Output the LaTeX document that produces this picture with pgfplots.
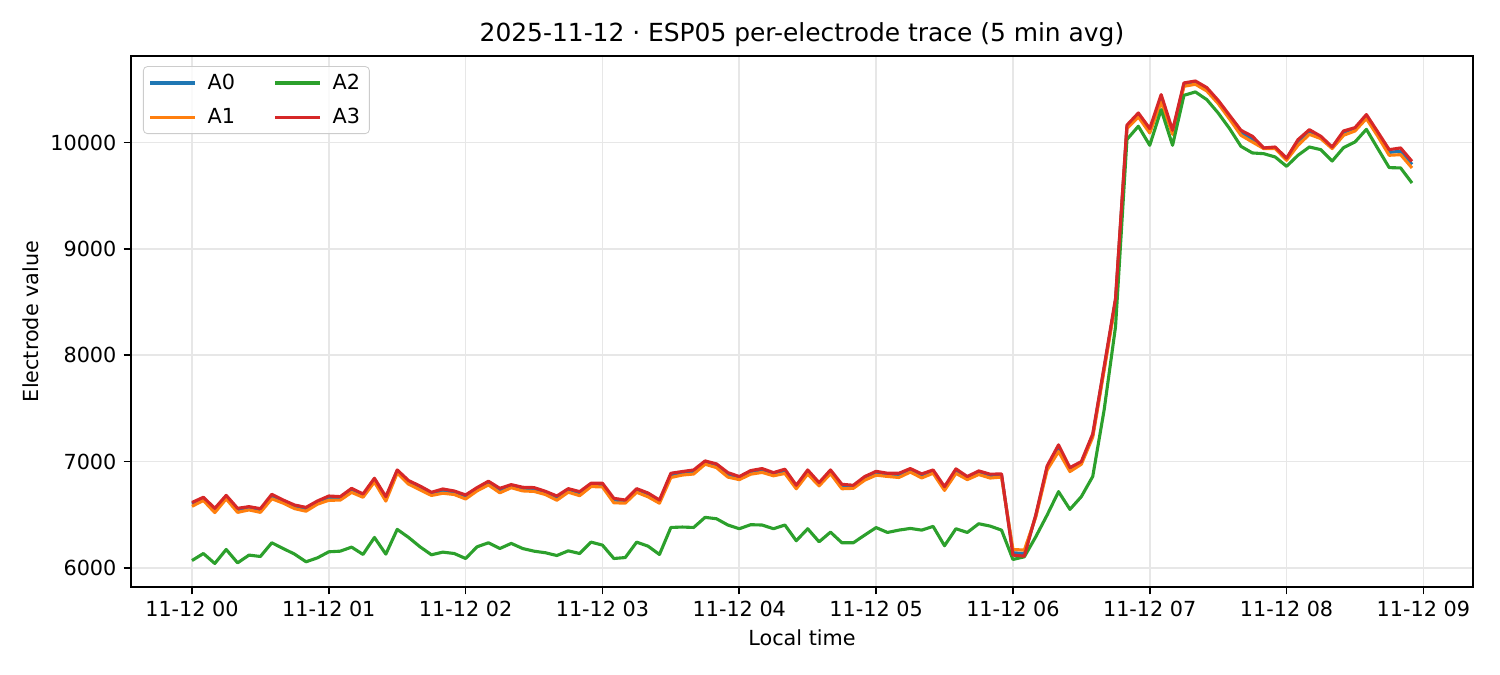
\documentclass[border=0pt]{standalone}
\usepackage{fontspec}
\setmainfont{DejaVu Sans}
\usepackage{pgfplots}
\usepackage{pgfplotstable}
\pgfplotsset{compat=1.18}

\definecolor{cA0}{HTML}{1F77B4}
\definecolor{cA1}{HTML}{FF7F0E}
\definecolor{cA2}{HTML}{2CA02C}
\definecolor{cA3}{HTML}{D62728}
\definecolor{gridgray}{HTML}{E7E7E7}
\definecolor{legedge}{HTML}{CCCCCC}

% minutes since 00:00, 5 min averages
\pgfplotstableread{
t A0 A1 A2 A3
0 6603 6579 6069 6615
5 6655 6634 6135 6664
10 6546 6520 6041 6560
15 6671 6649 6173 6682
20 6547 6522 6047 6560
25 6566 6545 6120 6576
30 6545 6522 6107 6557
35 6677 6650 6236 6692
40 6629 6609 6182 6638
45 6580 6557 6129 6591
50 6557 6533 6057 6569
55 6620 6599 6094 6629
60 6662 6636 6151 6676
65 6659 6637 6157 6670
70 6735 6710 6195 6748
75 6685 6664 6126 6695
80 6831 6808 6286 6843
85 6655 6628 6129 6670
90 6912 6892 6362 6921
95 6810 6787 6286 6821
100 6758 6734 6198 6770
105 6702 6681 6123 6711
110 6728 6702 6148 6742
115 6712 6690 6135 6723
120 6673 6648 6088 6686
125 6745 6724 6198 6755
130 6803 6780 6236 6815
135 6733 6706 6182 6748
140 6774 6754 6230 6783
145 6747 6724 6182 6758
150 6743 6719 6157 6755
155 6711 6690 6142 6720
160 6662 6636 6116 6676
165 6734 6712 6160 6745
170 6704 6679 6135 6717
175 6786 6765 6242 6796
180 6784 6761 6214 6796
185 6639 6612 6088 6654
190 6629 6609 6097 6638
195 6734 6711 6242 6745
200 6692 6668 6204 6704
205 6629 6608 6126 6638
210 6876 6850 6380 6890
215 6895 6873 6384 6906
220 6908 6883 6380 6921
225 6996 6975 6475 7006
230 6966 6943 6462 6978
235 6881 6854 6403 6896
240 6850 6830 6368 6859
245 6904 6881 6406 6915
250 6922 6898 6403 6934
255 6887 6866 6368 6896
260 6914 6888 6403 6928
265 6766 6744 6255 6777
270 6908 6883 6368 6921
275 6792 6771 6245 6802
280 6909 6886 6336 6921
285 6771 6744 6236 6786
290 6768 6748 6236 6777
295 6848 6825 6308 6859
300 6896 6872 6379 6908
305 6881 6860 6333 6890
310 6876 6850 6355 6890
315 6923 6901 6371 6934
320 6871 6846 6355 6884
325 6911 6890 6390 6921
330 6752 6729 6208 6764
335 6916 6889 6368 6931
340 6850 6830 6333 6859
345 6901 6878 6415 6912
350 6869 6845 6393 6881
355 6875 6854 6355 6884
360 6142 6173 6079 6120
365 6135 6167 6104 6110
370 6488 6478 6292 6497
375 6945 6921 6497 6959
380 7130 7094 6717 7157
385 6930 6906 6550 6943
390 6990 6975 6670 7000
395 7248 7230 6860 7260
400 7880 7860 7486 7893
405 8522 8500 8270 8536
410 10150 10132 10030 10165
415 10262 10241 10154 10279
420 10112 10091 9975 10132
425 10420 10383 10311 10452
430 10098 10078 9975 10116
435 10548 10530 10445 10562
440 10566 10549 10477 10580
445 10503 10486 10405 10518
450 10384 10368 10279 10398
455 10240 10222 10132 10257
460 10093 10069 9965 10116
465 10033 10006 9903 10060
470 9947 9944 9896 9950
475 9952 9944 9865 9959
480 9845 9834 9777 9854
485 10002 9975 9881 10028
490 10100 10078 9959 10122
495 10049 10038 9934 10060
500 9952 9944 9827 9959
505 10090 10069 9953 10110
510 10126 10110 10006 10141
515 10245 10226 10125 10264
520 10080 10060 9944 10100
525 9908 9881 9765 9934
530 9920 9887 9762 9950
535 9795 9762 9620 9824
}\esp

\begin{document}
\begin{tikzpicture}
\path[use as bounding box] (-0.8733in,-0.5867in) rectangle (9.1267in,3.9133in);
\begin{axis}[
    at={(0,0)}, anchor=south west,
    scale only axis,
    width=8.9467in, height=3.54in,
    xmin=-26.75, xmax=561.75,
    ymin=5820, ymax=10815,
    xtick={0,60,120,180,240,300,360,420,480,540},
    xticklabels={11-12 00,11-12 01,11-12 02,11-12 03,11-12 04,11-12 05,11-12 06,11-12 07,11-12 08,11-12 09},
    ytick={6000,7000,8000,9000,10000},
    xtick pos=bottom, ytick pos=left,
    /pgf/number format/assume math mode=true,
    /pgf/number format/1000 sep={},
    scaled y ticks=false,
    tick align=outside,
    major tick length=3.5pt,
    every tick/.style={black, line width=0.8pt},
    axis line style={black, line width=0.8pt},
    grid=major,
    major grid style={gridgray, line width=0.8pt},
    tick label style={font=\fontsize{10}{12}\selectfont},
    every axis title shift=0pt,
    title={2025-11-12 · ESP05 per-electrode trace (5 min avg)},
    title style={font=\fontsize{12}{14}\selectfont, at={(axis description cs:0.5,1.0395)}, anchor=center},
    xlabel={Local time},
    xlabel style={font=\fontsize{10}{12}\selectfont, at={(axis description cs:0.5,-0.096)}, anchor=center},
    ylabel={Electrode value},
    ylabel style={font=\fontsize{10}{12}\selectfont, at={(axis description cs:-0.0745,0.5)}, anchor=center, rotate=0},
    legend columns=2,
    transpose legend,
    legend cell align=left,
    legend style={
        at={(axis description cs:0.0089,0.981)}, anchor=north west,
        draw=legedge, rounded corners=2pt, fill=white, fill opacity=0.8, text opacity=1,
        font=\fontsize{10}{12}\selectfont,
        inner xsep=2.5pt, inner ysep=1.5pt, row sep=3.5pt,
        /tikz/every even column/.append style={column sep=16.5pt},
    },
    legend image code/.code={\draw[#1, line width=1.5pt] (0pt,0pt) -- (21.5pt,0pt); \path (25pt,0pt);},
    every axis plot/.append style={line width=1.5pt, line join=round},
]
\addplot[cA0, no markers] table[x=t, y=A0] {\esp};
\addlegendentry{A0}
\addplot[cA1, no markers] table[x=t, y=A1] {\esp};
\addlegendentry{A1}
\addplot[cA2, no markers] table[x=t, y=A2] {\esp};
\addlegendentry{A2}
\addplot[cA3, no markers] table[x=t, y=A3] {\esp};
\addlegendentry{A3}
\end{axis}
\end{tikzpicture}
\end{document}
